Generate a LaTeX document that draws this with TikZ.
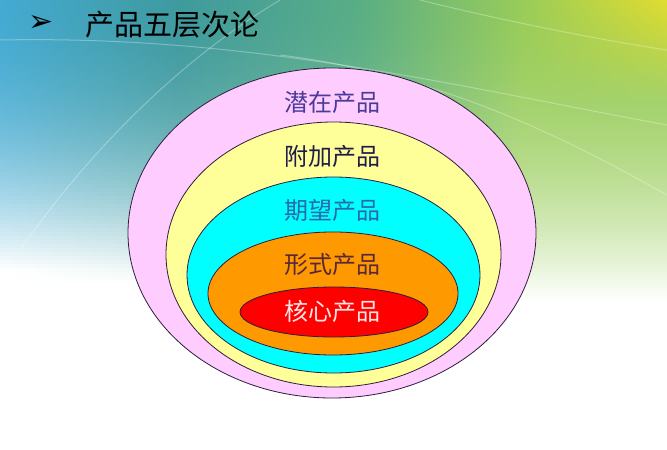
\documentclass[tikz,border=0pt]{standalone}
\usepackage{fontspec}
\newfontfamily\cjk{Noto Sans CJK SC}
\newfontfamily\dingbat{DejaVu Sans}
\usepackage{tikz}
\usetikzlibrary{shapes.geometric}
\definecolor{skyblue}{HTML}{44AAD2}
\definecolor{teal1}{HTML}{3F9A9E}
\definecolor{greeny}{HTML}{5AAE84}
\definecolor{limey}{HTML}{98CC5A}
\definecolor{sunny}{HTML}{E0DC30}
\definecolor{pinkl}{HTML}{FFCCFF}
\definecolor{yellowl}{HTML}{FFFF99}
\definecolor{cyanl}{HTML}{00FFFF}
\definecolor{orangel}{HTML}{FF9900}
\definecolor{redl}{HTML}{FF0000}
\definecolor{rim}{HTML}{2E1E3A}
\tikzset{layer/.style = {ellipse, draw = rim, line width = 0.8pt, inner sep = 0}}
\tikzset{tag/.style = {font = \cjk\fontsize{24}{28}\selectfont, inner sep = 0}}
\tikzset{streak/.style = {white, line width = 1pt, opacity = 0.3}}

\begin{document}
\begin{tikzpicture}[x = 1pt, y = -1pt]

    \useasboundingbox (0, 0) rectangle (667, 450);
    \fill [white] (0, 0) rectangle (667, 450);
    \foreach \row in {0, 4, ..., 300} {
      \pgfmathsetmacro\ma{max(0, 100*(1-(\row/268)^2))}
      \pgfmathsetmacro\mb{max(0, 100*(1-(\row/282)^2))}
      \pgfmathsetmacro\mc{max(0, 100*(1-(\row/292)^2))}
      \pgfmathsetmacro\md{max(0, 100*(1-(\row/300)^2))}
      \pgfmathsetmacro\sun{max(0, 100-\row)}
      \fill [left color = skyblue!\ma!white, right color = teal1!\mb!white] (0, \row) rectangle (181, \row+4.6);
      \fill [left color = teal1!\mb!white, right color = greeny!\mc!white] (180, \row) rectangle (361, \row+4.6);
      \fill [left color = greeny!\mc!white, right color = limey!\md!white] (360, \row) rectangle (521, \row+4.6);
      \fill [left color = limey!\md!white, right color = sunny!\sun!limey!\md!white] (520, \row) rectangle (667, \row+4.6);
    }

    \draw [streak] (0, 40) .. controls (250, 35) and (450, 85) .. (667, 125);
    \draw [streak] (280, 55) .. controls (440, 75) and (560, 135) .. (667, 195);
    \draw [streak] (20, 250) .. controls (90, 150) and (180, 60) .. (280, 0);
    \draw [streak] (420, 0) .. controls (500, 20) and (600, 40) .. (667, 50);

    \node [layer, fill = pinkl, minimum width = 408pt, minimum height = 330pt] (5) at (332, 233) {};
    \node [layer, fill = yellowl, minimum width = 335pt, minimum height = 265pt] (4) at (333.5, 254.5) {};
    \node [layer, fill = cyanl, minimum width = 293pt, minimum height = 196pt] (3) at (333.5, 275) {};
    \node [layer, fill = orangel, minimum width = 250pt, minimum height = 123pt] (2) at (333, 293.5) {};
    \node [layer, fill = redl, minimum width = 188pt, minimum height = 50pt] (1) at (334, 312) {};

    \node [tag, text = {rgb,255:red,74;green,58;blue,154}] (potential) at (332, 102) {潜在产品};
    \node [tag, text = {rgb,255:red,30;green,28;blue,72}] (augmented) at (332, 156) {附加产品};
    \node [tag, text = {rgb,255:red,42;green,104;blue,170}] (expected) at (332, 210) {期望产品};
    \node [tag, text = {rgb,255:red,88;green,40;blue,58}] (formal) at (332, 264) {形式产品};
    \node [tag, text = {rgb,255:red,255;green,228;blue,228}] (core) at (332, 311) {核心产品};

    \node [font = \dingbat\fontsize{30}{34}\selectfont, inner sep = 0] (bullet) at (41, 24) {➢};
    \node [font = \cjk\fontsize{29}{34}\selectfont, inner sep = 0, anchor = west] (title) at (85, 25) {产品五层次论};
  \end{tikzpicture}
\end{document}
